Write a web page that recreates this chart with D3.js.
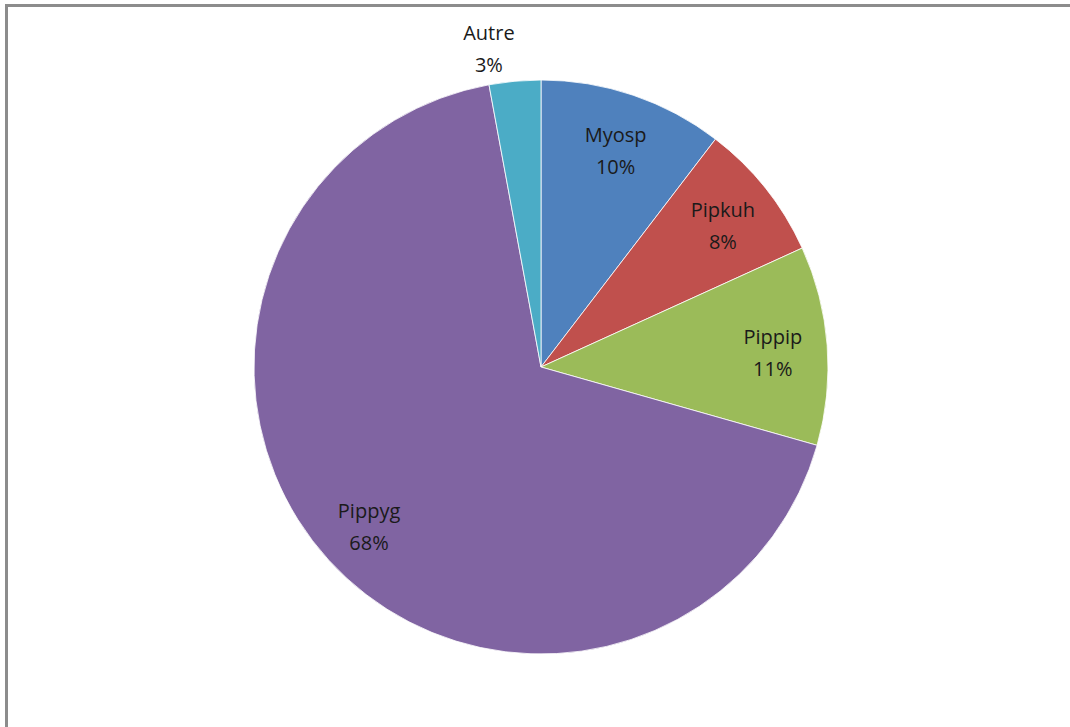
<!DOCTYPE html>
<html>
<head>
<meta charset="utf-8">
<script src="https://cdn.jsdelivr.net/npm/d3@7"></script>
<style>
    body { margin: 0; background: #fff; }
    #chart { position: relative; width: 1070px; height: 727px; overflow: hidden; }
</style>
</head>
<body>
<div id="chart"></div>
<script>
// Data (percent of total)
const categories = ["Myosp", "Pipkuh", "Pippip", "Pippyg", "Autre"];
const values = [10.4, 7.8, 11.2, 67.7, 2.9];
const colors = ["#4F81BD", "#C0504D", "#9BBB59", "#8064A2", "#4BACC6"];

const g_width = 1070;
const g_height = 727;
const radius = 287;
const cx = 541;
const cy = 367;

const data = categories.map((c, i) => ({ name: c, value: values[i] }));
const total = d3.sum(values);

const svg = d3
    .select("#chart")
    .append("svg")
    .attr("width", g_width)
    .attr("height", g_height);

// Chart frame (only top and left edges are visible in the picture)
svg.append("rect")
    .attr("x", 6.5)
    .attr("y", 5.5)
    .attr("width", 1100)
    .attr("height", 800)
    .attr("fill", "none")
    .attr("stroke", "#8c8c8c")
    .attr("stroke-width", 3);

const g = svg.append("g").attr("transform", `translate(${cx},${cy})`);

const pie = d3.pie().sort(null).value((d) => d.value);
const arcs = pie(data);

const arc = d3.arc().innerRadius(0).outerRadius(radius);
const labelArc = d3.arc().innerRadius(radius * 0.81).outerRadius(radius * 0.81);
const outerLabelArc = d3.arc().innerRadius(radius + 3).outerRadius(radius + 3);

g.selectAll(".slice")
    .data(arcs)
    .enter()
    .append("path")
    .attr("class", "slice")
    .attr("d", arc)
    .attr("fill", (d, i) => colors[i])
    .attr("stroke", "#fff")
    .attr("stroke-width", 0.8);

const isOutside = (d) => d.data.value / total < 0.05;

// Labels: name + rounded percent, small slices go outside
const labels = g.selectAll(".label")
    .data(arcs)
    .enter()
    .append("text")
    .attr("class", "label")
    .attr("text-anchor", "middle")
    .style("font-family", "'Open Sans', sans-serif")
    .style("font-size", "20px")
    .style("fill", "#1a1a1a");

labels.append("tspan")
    .attr("x", 0)
    .attr("dy", "-0.25em")
    .text((d) => d.data.name);

labels.append("tspan")
    .attr("x", 0)
    .attr("dy", "1.6em")
    .text((d) => Math.round((d.data.value / total) * 100) + "%");

labels.attr("transform", function (d) {
    if (!isOutside(d)) {
        const p = labelArc.centroid(d);
        return `translate(${p[0]},${p[1]})`;
    }
    // outside label: put the box corner nearest the pie on the anchor point
    const p = outerLabelArc.centroid(d);
    const b = this.getBBox();
    const dx = p[0] < 0 ? p[0] - (b.x + b.width) : p[0] - b.x;
    const dy = p[1] < 0 ? p[1] - (b.y + b.height) : p[1] - b.y;
    return `translate(${dx},${dy})`;
});
</script>
</body>
</html>
